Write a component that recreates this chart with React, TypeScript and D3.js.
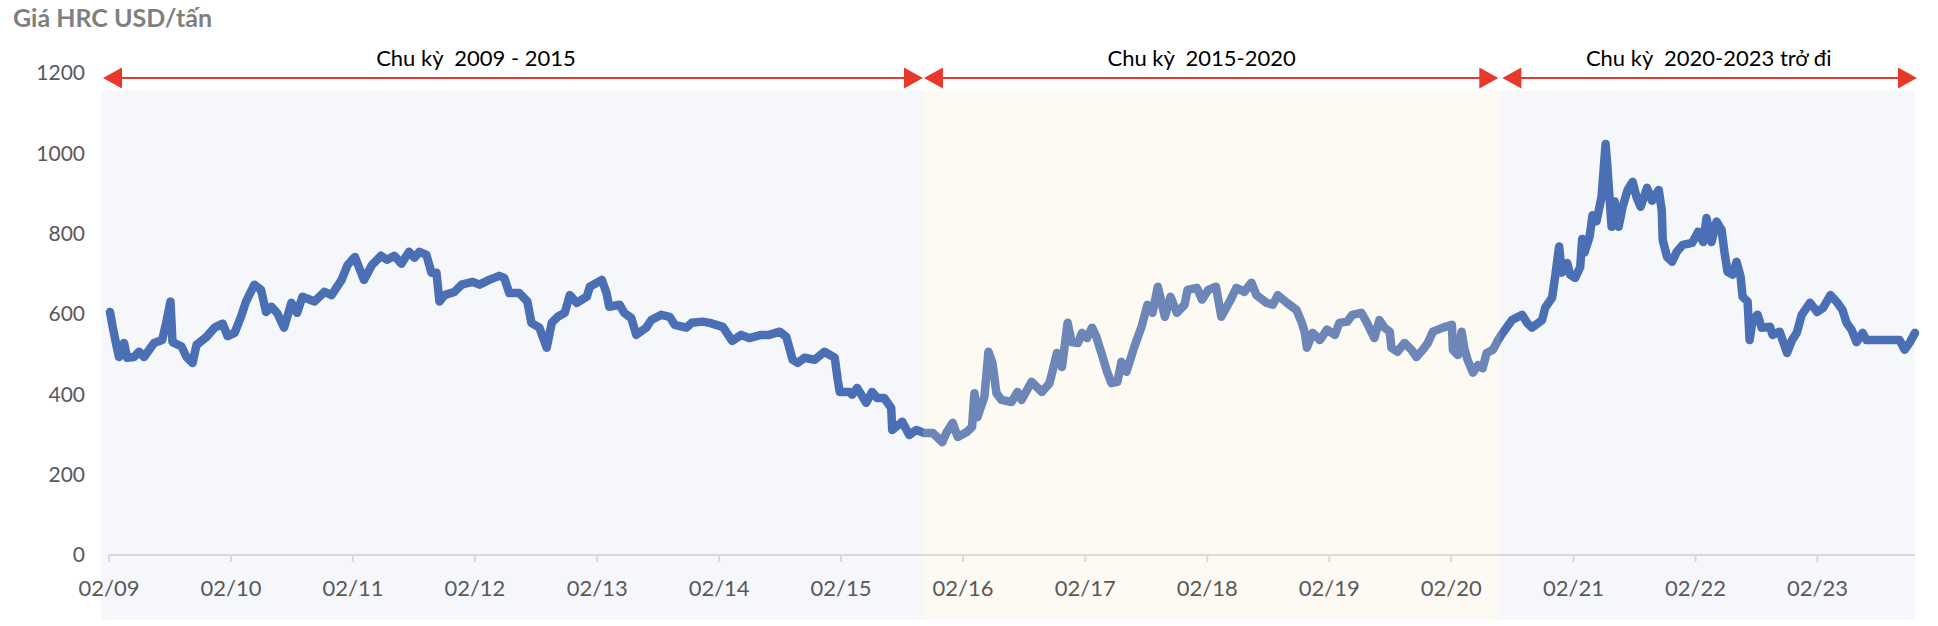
import { useEffect, useRef } from 'react';
import * as d3 from 'd3';

// HRC price, USD/ton
const dates = [
  '2009-02-04', '2009-02-12', '2009-02-24', '2009-03-03', '2009-03-18', '2009-03-27', '2009-04-17', '2009-05-02',
  '2009-05-17', '2009-06-16', '2009-07-10', '2009-07-22', '2009-08-04', '2009-08-10', '2009-09-06', '2009-09-21',
  '2009-10-09', '2009-10-21', '2009-11-20', '2009-12-14', '2010-01-07', '2010-01-22', '2010-02-12', '2010-03-03',
  '2010-03-18', '2010-04-12', '2010-05-02', '2010-05-17', '2010-06-02', '2010-06-19', '2010-07-10', '2010-08-01',
  '2010-08-18', '2010-09-03', '2010-10-09', '2010-11-08', '2010-11-29', '2010-12-29', '2011-01-16', '2011-02-07',
  '2011-03-06', '2011-03-30', '2011-04-26', '2011-05-14', '2011-06-05', '2011-06-26', '2011-07-19', '2011-08-04',
  '2011-08-19', '2011-09-09', '2011-09-24', '2011-10-09', '2011-10-18', '2011-11-02', '2011-12-02', '2011-12-23',
  '2012-01-25', '2012-02-15', '2012-03-15', '2012-04-14', '2012-04-29', '2012-05-14', '2012-06-13', '2012-07-07',
  '2012-07-19', '2012-08-12', '2012-09-03', '2012-09-18', '2012-10-06', '2012-10-27', '2012-11-11', '2012-12-02',
  '2013-01-01', '2013-01-10', '2013-02-15', '2013-03-01', '2013-03-09', '2013-04-09', '2013-04-23', '2013-05-14',
  '2013-05-29', '2013-06-28', '2013-07-13', '2013-08-12', '2013-09-06', '2013-09-21', '2013-10-26', '2013-11-11',
  '2013-12-13', '2014-01-04', '2014-02-12', '2014-03-12', '2014-04-08', '2014-05-02', '2014-06-07', '2014-07-01',
  '2014-08-01', '2014-08-21', '2014-09-09', '2014-09-24', '2014-10-14', '2014-11-14', '2014-12-13', '2015-01-13',
  '2015-01-22', '2015-01-28', '2015-02-27', '2015-03-06', '2015-03-21', '2015-04-17', '2015-05-05', '2015-05-20',
  '2015-06-10', '2015-07-01', '2015-07-04', '2015-08-03', '2015-08-24', '2015-09-14', '2015-10-08', '2015-11-02',
  '2015-12-01', '2015-12-13', '2016-01-01', '2016-01-16', '2016-02-12', '2016-02-28', '2016-03-06', '2016-03-15',
  '2016-04-05', '2016-04-17', '2016-04-29', '2016-05-11', '2016-05-26', '2016-06-25', '2016-07-13', '2016-07-25',
  '2016-08-24', '2016-09-24', '2016-10-17', '2016-11-08', '2016-11-23', '2016-12-10', '2016-12-22', '2017-01-10',
  '2017-01-22', '2017-02-06', '2017-02-21', '2017-03-06', '2017-03-21', '2017-04-08', '2017-04-20', '2017-05-08',
  '2017-05-20', '2017-06-04', '2017-06-28', '2017-07-19', '2017-08-06', '2017-08-21', '2017-09-06', '2017-09-27',
  '2017-10-14', '2017-11-02', '2017-11-25', '2017-12-04', '2018-01-01', '2018-01-16', '2018-02-04', '2018-02-27',
  '2018-03-15', '2018-04-09', '2018-04-29', '2018-05-23', '2018-06-13', '2018-06-28', '2018-07-28', '2018-08-16',
  '2018-08-31', '2018-09-27', '2018-10-26', '2018-11-11', '2018-11-20', '2018-11-26', '2018-12-13', '2019-01-04',
  '2019-01-25', '2019-02-18', '2019-03-03', '2019-03-27', '2019-04-11', '2019-05-08', '2019-05-23', '2019-06-16',
  '2019-07-01', '2019-07-16', '2019-08-01', '2019-08-06', '2019-08-24', '2019-09-14', '2019-10-05', '2019-10-20',
  '2019-11-08', '2019-11-23', '2019-12-08', '2020-01-07', '2020-02-03', '2020-02-06', '2020-02-21', '2020-03-03',
  '2020-03-12', '2020-03-21', '2020-04-06', '2020-04-21', '2020-05-05', '2020-05-17', '2020-06-05', '2020-06-20',
  '2020-07-04', '2020-08-01', '2020-08-31', '2020-09-15', '2020-09-30', '2020-10-30', '2020-11-08', '2020-11-29',
  '2020-12-08', '2020-12-20', '2020-12-28', '2021-01-13', '2021-01-22', '2021-02-06', '2021-02-21', '2021-02-27',
  '2021-03-06', '2021-03-21', '2021-03-30', '2021-04-11', '2021-04-26', '2021-05-08', '2021-05-14', '2021-05-26',
  '2021-06-04', '2021-06-16', '2021-06-28', '2021-07-13', '2021-07-28', '2021-08-09', '2021-08-21', '2021-09-09',
  '2021-09-24', '2021-10-14', '2021-10-23', '2021-10-26', '2021-11-08', '2021-11-23', '2021-12-07', '2021-12-25',
  '2022-01-22', '2022-02-09', '2022-02-24', '2022-03-06', '2022-03-21', '2022-04-05', '2022-04-20', '2022-04-29',
  '2022-05-08', '2022-05-23', '2022-06-04', '2022-06-16', '2022-06-22', '2022-07-07', '2022-07-13', '2022-07-22',
  '2022-08-06', '2022-08-18', '2022-09-12', '2022-09-20', '2022-10-11', '2022-11-02', '2022-11-17', '2022-12-01',
  '2022-12-16', '2023-01-10', '2023-01-31', '2023-02-18', '2023-03-12', '2023-03-30', '2023-04-17', '2023-04-29',
  '2023-05-14', '2023-05-29', '2023-06-16', '2023-06-28', '2023-10-05', '2023-10-20', '2023-11-05', '2023-11-20',
];

const prices = [
  605, 568, 519, 493, 528, 491, 493, 506,
  493, 528, 535, 578, 631, 530, 519, 493,
  478, 523, 543, 566, 576, 545, 553, 593,
  631, 673, 660, 605, 618, 603, 566, 628,
  603, 643, 631, 655, 647, 685, 722, 742,
  685, 722, 745, 735, 745, 725, 755, 740,
  755, 747, 703, 703, 631, 647, 655, 673,
  680, 673, 685, 695, 690, 652, 652, 631,
  578, 566, 516, 578, 593, 603, 647, 628,
  643, 668, 685, 652, 618, 623, 603, 590,
  548, 566, 585, 598, 593, 573, 566, 578,
  581, 578, 568, 533, 548, 540, 548, 548,
  556, 543, 486, 478, 491, 486, 506, 491,
  436, 406, 406, 399, 416, 379, 406, 391,
  391, 366, 311, 332, 299, 311, 304, 304,
  281, 304, 329, 294, 306, 319, 403, 343,
  394, 506, 478, 403, 386, 381, 406, 386,
  431, 406, 428, 503, 468, 578, 530, 528,
  553, 540, 566, 543, 503, 454, 428, 431,
  481, 456, 519, 568, 623, 603, 668, 593,
  643, 603, 623, 660, 665, 636, 660, 668,
  593, 631, 665, 655, 678, 647, 628, 623,
  647, 628, 610, 578, 553, 516, 553, 535,
  561, 548, 578, 581, 598, 603, 581, 540,
  585, 566, 556, 516, 506, 528, 511, 493,
  511, 528, 556, 566, 573, 511, 498, 556,
  511, 486, 454, 473, 465, 503, 511, 535,
  553, 585, 598, 578, 566, 585, 615, 641,
  693, 768, 703, 727, 698, 690, 717, 787,
  753, 792, 846, 831, 892, 1023, 959, 817,
  880, 817, 867, 909, 929, 890, 867, 914,
  882, 909, 859, 784, 742, 730, 755, 772,
  777, 805, 779, 839, 779, 830, 810, 753,
  705, 698, 730, 693, 643, 631, 535, 585,
  598, 566, 568, 548, 556, 503, 535, 553,
  598, 628, 605, 615, 647, 631, 610, 578,
  561, 530, 553, 535, 535, 511, 530, 553,
];

const yTicks = [0, 200, 400, 600, 800, 1000, 1200];
const xTickYears = [2009, 2010, 2011, 2012, 2013, 2014, 2015, 2016, 2017, 2018, 2019, 2020, 2021, 2022, 2023];

const cycleLabels = ['Chu kỳ  2009 - 2015', 'Chu kỳ  2015-2020', 'Chu kỳ  2020-2023 trở đi'];
const cycleStarts = ['2009-02-01', '2015-10-04', '2020-06-27'];
const cycleEnds = ['2015-10-04', '2020-06-27', '2023-11-20'];

const FONT = 'Lato, "Open Sans", sans-serif';

export default function App() {
  const svgRef = useRef<SVGSVGElement>(null);

  useEffect(() => {
    if (!svgRef.current) return;
    const svg = d3.select(svgRef.current);
    svg.selectAll('*').remove();

    const parse = d3.timeParse('%Y-%m-%d');
    const series = dates.map((d, i) => ({ date: parse(d) as Date, value: prices[i] }));

    const x = d3
      .scaleTime()
      .domain([parse('2009-02-01') as Date, parse('2023-11-20') as Date])
      .range([109, 1915]);
    const y = d3.scaleLinear().domain([0, 1200]).range([555, 73]);

    const plotTop = 91;
    const plotBottom = 620;
    const pad = 8;

    const cycles = cycleLabels.map((label, i) => ({
      label,
      x0: x(parse(cycleStarts[i]) as Date),
      x1: x(parse(cycleEnds[i]) as Date),
    }));

    // blue bands sit below the line
    const bg = svg.append('g');
    [0, 2].forEach((i) => {
      const c = cycles[i];
      const left = i === 0 ? c.x0 - pad : c.x0;
      bg.append('rect')
        .attr('x', left)
        .attr('y', plotTop)
        .attr('width', c.x1 - left)
        .attr('height', plotBottom - plotTop)
        .attr('fill', '#f5f7fb');
    });

    // x axis line + ticks
    const ticks = xTickYears.map((yr) => new Date(yr, 1, 1));
    svg.append('line')
      .attr('x1', x.range()[0])
      .attr('x2', x.range()[1])
      .attr('y1', y(0))
      .attr('y2', y(0))
      .attr('stroke', '#d9d9d9')
      .attr('stroke-width', 2);
    svg.append('g')
      .selectAll('line')
      .data(ticks)
      .join('line')
      .attr('x1', (d) => x(d))
      .attr('x2', (d) => x(d))
      .attr('y1', y(0))
      .attr('y2', y(0) + 7)
      .attr('stroke', '#d9d9d9')
      .attr('stroke-width', 2);

    // price line
    const line = d3
      .line<{ date: Date; value: number }>()
      .x((d) => x(d.date))
      .y((d) => y(d.value));
    svg.append('path')
      .datum(series)
      .attr('d', line)
      .attr('fill', 'none')
      .attr('stroke', '#4a6fb5')
      .attr('stroke-width', 8.5)
      .attr('stroke-linejoin', 'round')
      .attr('stroke-linecap', 'round');

    // cream band is a translucent layer over the line
    const mid = cycles[1];
    svg.append('rect')
      .attr('x', mid.x0)
      .attr('y', plotTop)
      .attr('width', mid.x1 - mid.x0)
      .attr('height', plotBottom - plotTop)
      .attr('fill', '#f7e8c8')
      .attr('opacity', 0.2);

    // y tick labels
    svg.append('g')
      .selectAll('text')
      .data(yTicks)
      .join('text')
      .attr('x', 85)
      .attr('y', (d) => y(d))
      .attr('dy', '0.35em')
      .attr('text-anchor', 'end')
      .attr('font-family', FONT)
      .attr('font-size', 21)
      .attr('fill', '#595959')
      .text((d) => d);

    // x tick labels
    svg.append('g')
      .selectAll('text')
      .data(ticks)
      .join('text')
      .attr('x', (d) => x(d))
      .attr('y', 596)
      .attr('text-anchor', 'middle')
      .attr('font-family', FONT)
      .attr('font-size', 22)
      .attr('fill', '#595959')
      .text((d) => d3.timeFormat('%m/%y')(d));

    // cycle arrows
    const arrowY = 78;
    const headLen = 19;
    const headHalf = 10.5;
    const tipPad = [[pad - 2, 0], [1, 2], [2, -2]];
    const arrows = svg.append('g');
    cycles.forEach((c, i) => {
      const a = i === 0 ? c.x0 - tipPad[i][0] : c.x0 + tipPad[i][0];
      const b = c.x1 - tipPad[i][1];
      arrows.append('line')
        .attr('x1', a + headLen - 2)
        .attr('x2', b - headLen + 2)
        .attr('y1', arrowY)
        .attr('y2', arrowY)
        .attr('stroke', '#e8372b')
        .attr('stroke-width', 2);
      arrows.append('path')
        .attr('d', `M${a},${arrowY}L${a + headLen},${arrowY - headHalf}L${a + headLen},${arrowY + headHalf}Z`)
        .attr('fill', '#e8372b');
      arrows.append('path')
        .attr('d', `M${b},${arrowY}L${b - headLen},${arrowY - headHalf}L${b - headLen},${arrowY + headHalf}Z`)
        .attr('fill', '#e8372b');
    });

    const labelShift = [-40, -10, 1];
    svg.append('g')
      .selectAll('text')
      .data(cycles)
      .join('text')
      .attr('x', (d, i) => (d.x0 + d.x1) / 2 + labelShift[i])
      .attr('y', 66)
      .attr('text-anchor', 'middle')
      .attr('font-family', FONT)
      .attr('font-size', 22)
      .attr('fill', '#000')
      .style('white-space', 'pre')
      .text((d) => d.label);

    // title
    svg.append('text')
      .attr('x', 13)
      .attr('y', 27)
      .attr('font-family', FONT)
      .attr('font-size', 25)
      .attr('font-weight', 700)
      .attr('fill', '#7f7f7f')
      .text('Giá HRC USD/tấn');
  }, []);

  return (
    <>
      <style>{'body{margin:0;background:#fff}'}</style>
      <svg ref={svgRef} width={1938} height={626} style={{ display: 'block' }} />
    </>
  );
}
